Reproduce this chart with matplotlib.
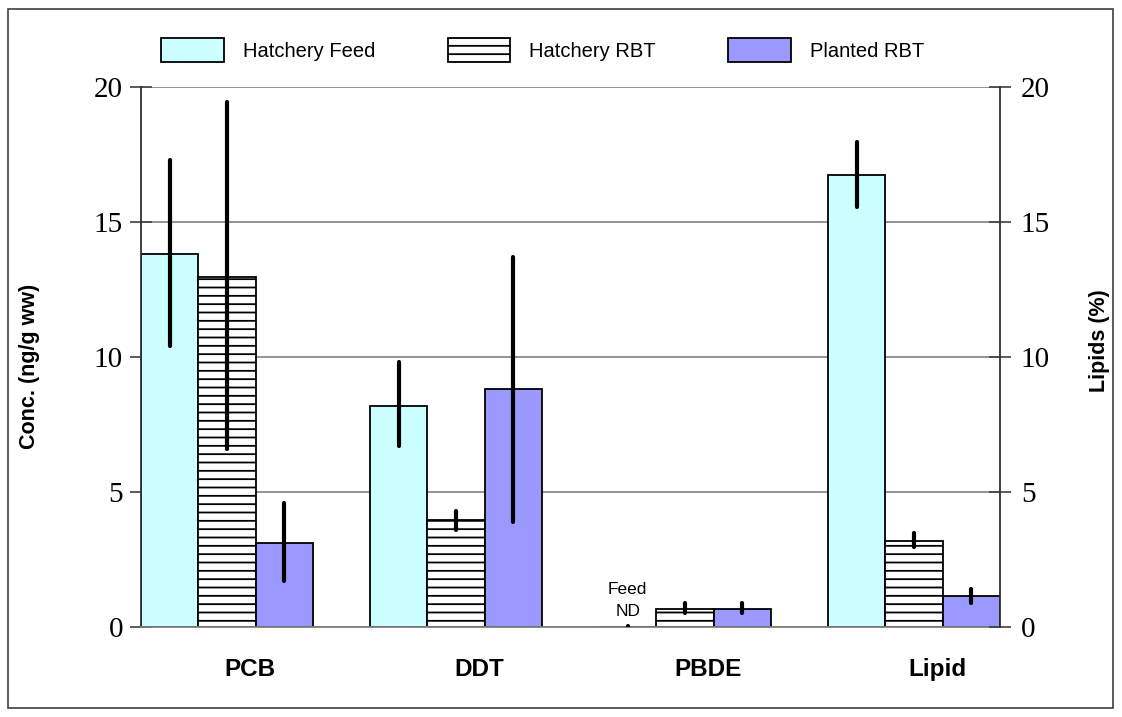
import matplotlib
matplotlib.use("Agg")
import matplotlib.pyplot as plt
import numpy as np
from matplotlib.patches import Rectangle

categories = ["PCB", "DDT", "PBDE", "Lipid"]
series_names = ["Hatchery Feed", "Hatchery RBT", "Planted RBT"]
feed = [13.8, 8.2, 0.0, 16.75]
feed_lo = [10.4, 6.7, 0.0, 15.55]
feed_hi = [17.3, 9.8, 0.04, 17.95]
hrbt = [12.97, 3.95, 0.67, 3.2]
hrbt_lo = [6.6, 3.6, 0.52, 2.95]
hrbt_hi = [19.45, 4.3, 0.88, 3.5]
prbt = [3.1, 8.8, 0.67, 1.15]
prbt_lo = [1.7, 3.9, 0.52, 0.9]
prbt_hi = [4.6, 13.7, 0.88, 1.4]
yticks = [0, 5, 10, 15, 20]

plt.rcParams['hatch.linewidth'] = 1.3

fig = plt.figure(figsize=(11.22, 7.17), dpi=100)
ax = fig.add_axes([141/1122, 1-627/717, (1000-141)/1122, (627-87)/717])

x = np.arange(len(categories))
w = 0.25
colors = ["#CCFFFF", "white", "#9999FF"]
hatches = [None, "--", None]
vals = [feed, hrbt, prbt]
los = [feed_lo, hrbt_lo, prbt_lo]
his = [feed_hi, hrbt_hi, prbt_hi]
handles = []
for i in range(3):
    xs = x + (i - 1) * w
    b = ax.bar(xs, vals[i], width=w, color=colors[i], edgecolor="black",
               linewidth=1.3, hatch=hatches[i], label=series_names[i], zorder=2)
    handles.append(b)
    v = np.array(vals[i]); lo = np.array(los[i]); hi = np.array(his[i])
    err = np.vstack([v - lo, hi - v])
    eb = ax.errorbar(xs, v, yerr=err, fmt="none", ecolor="black",
                     elinewidth=3, capsize=0, zorder=3)
    for lc in eb[2]:
        lc.set_capstyle("round")

ax.set_xlim(-0.375, 3.375)
ax.set_ylim(0, 20)
ax.set_yticks(yticks)
ax.yaxis.grid(True, color="#808080", linewidth=1.2, zorder=0)
ax.set_axisbelow(True)
ax.set_xticks(x + 0.1)
ax.set_xticklabels(categories, fontfamily="Liberation Sans", fontweight="bold", fontsize=17.5)
ax.tick_params(axis="x", length=0, pad=22)
ax.tick_params(axis="y", direction="inout", length=16, width=1.2, color="#404040",
               labelsize=21, pad=5)
for lab in ax.get_yticklabels():
    lab.set_fontfamily("Liberation Serif")
ax.spines["top"].set_visible(False)
ax.spines["right"].set_visible(False)
ax.spines["bottom"].set_color("#808080")
ax.spines["bottom"].set_linewidth(1.3)
ax.spines["left"].set_color("#303030")
ax.spines["left"].set_linewidth(1.3)

ax.text(x[2] - w, 0.3, "Feed\nND", ha="center", va="bottom", fontsize=12.5,
        fontfamily="Liberation Sans", linespacing=1.6)

ax2 = ax.twinx()
ax2.set_ylim(0, 20)
ax2.set_yticks(yticks)
ax2.tick_params(axis="y", direction="inout", length=16, width=1.2, color="#404040",
                labelsize=21, pad=7)
for lab in ax2.get_yticklabels():
    lab.set_fontfamily("Liberation Serif")
for s in ["top", "left", "bottom"]:
    ax2.spines[s].set_visible(False)
ax2.spines["right"].set_color("#303030")
ax2.spines["right"].set_linewidth(1.3)

fig.text(30/1122, 1-366/717, "Conc. (ng/g ww)", rotation=90, ha="center", va="center",
         fontfamily="Liberation Sans", fontweight="bold", fontsize=15.5)
fig.text(1099/1122, 1-341/717, "Lipids (%)", rotation=90, ha="center", va="center",
         fontfamily="Liberation Sans", fontweight="bold", fontsize=15.5)

leg = fig.legend(handles=handles, loc="center left", bbox_to_anchor=(143/1122, 1-50/717),
                 ncol=3, frameon=False, prop={"family": "Liberation Sans", "size": 14.5},
                 handlelength=3.1, handleheight=1.4, handletextpad=0.95, columnspacing=3.6)

fig.patches.append(Rectangle((8/1122, 9/717), (1113-8)/1122, (708-9)/717,
                             transform=fig.transFigure, fill=False,
                             edgecolor="#404040", linewidth=1.2))

fig.savefig("out.png", dpi=100)
